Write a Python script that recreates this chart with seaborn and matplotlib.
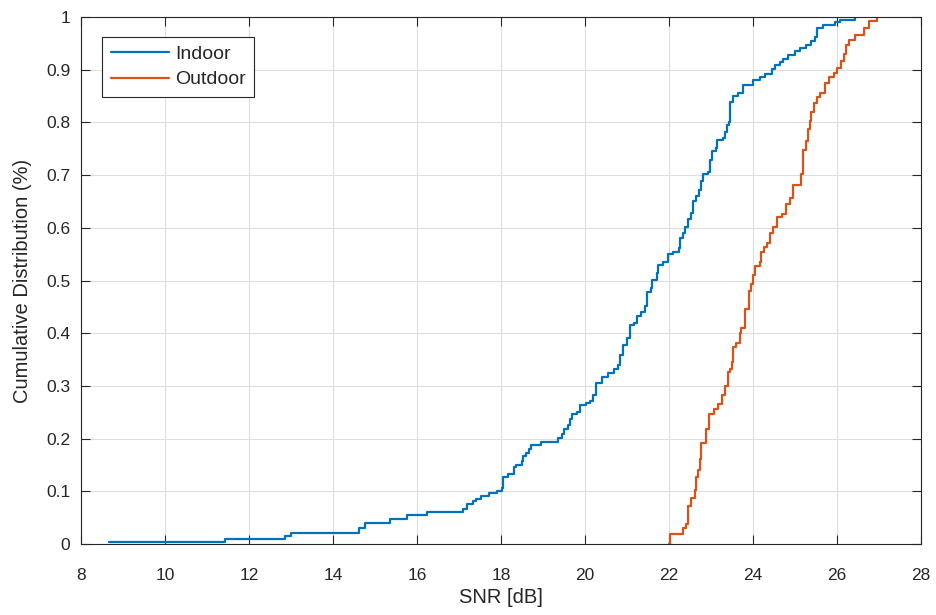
import matplotlib
matplotlib.use("Agg")
import matplotlib.pyplot as plt
import numpy as np
import pandas as pd
import seaborn as sns
from matplotlib.ticker import FormatStrFormatter

# Empirical CDF knots (SNR in dB, cumulative fraction) for each environment
indoor_snr = [8.67, 11.42, 12.85, 13.00, 14.62, 14.76, 15.35, 15.76, 16.24, 17.08,
              17.19, 17.33, 17.40, 17.52, 17.71, 17.89, 18.01, 18.05, 18.17, 18.30,
              18.36, 18.49, 18.52, 18.58, 18.67, 18.70, 18.94, 19.36, 19.46, 19.49,
              19.60, 19.64, 19.68, 19.81, 19.87, 20.01, 20.11, 20.18, 20.25, 20.41,
              20.55, 20.68, 20.79, 20.84, 20.90, 20.99, 21.06, 21.16, 21.24, 21.34,
              21.42, 21.48, 21.56, 21.60, 21.70, 21.74, 21.86, 21.98, 22.10, 22.24,
              22.27, 22.32, 22.37, 22.45, 22.53, 22.57, 22.64, 22.71, 22.77, 22.81,
              22.93, 22.97, 23.03, 23.11, 23.14, 23.29, 23.33, 23.38, 23.43, 23.46,
              23.52, 23.64, 23.76, 24.00, 24.16, 24.28, 24.44, 24.52, 24.64, 24.71,
              24.83, 24.99, 25.11, 25.27, 25.39, 25.47, 25.52, 25.67, 25.95, 26.07,
              26.42, 26.46]
indoor_cdf = [0.004, 0.010, 0.015, 0.021, 0.030, 0.040, 0.047, 0.056, 0.061, 0.066,
              0.076, 0.082, 0.086, 0.091, 0.096, 0.100, 0.106, 0.127, 0.133, 0.146,
              0.150, 0.158, 0.167, 0.172, 0.180, 0.188, 0.193, 0.202, 0.209, 0.219,
              0.225, 0.237, 0.247, 0.251, 0.264, 0.268, 0.272, 0.283, 0.305, 0.317,
              0.325, 0.333, 0.340, 0.359, 0.378, 0.390, 0.416, 0.420, 0.433, 0.441,
              0.452, 0.479, 0.485, 0.501, 0.514, 0.529, 0.536, 0.550, 0.555, 0.561,
              0.580, 0.590, 0.602, 0.616, 0.629, 0.650, 0.660, 0.672, 0.688, 0.702,
              0.706, 0.729, 0.746, 0.751, 0.767, 0.770, 0.782, 0.795, 0.801, 0.838,
              0.850, 0.855, 0.870, 0.880, 0.886, 0.891, 0.901, 0.908, 0.914, 0.920,
              0.927, 0.935, 0.941, 0.947, 0.955, 0.962, 0.980, 0.985, 0.990, 0.994,
              1.000, 1.000]

outdoor_snr = [22.00, 22.02, 22.32, 22.40, 22.45, 22.53, 22.61, 22.64, 22.69, 22.73,
               22.77, 22.89, 22.95, 23.06, 23.17, 23.25, 23.33, 23.40, 23.45, 23.49,
               23.52, 23.60, 23.68, 23.72, 23.80, 23.90, 23.96, 23.99, 24.04, 24.16,
               24.20, 24.25, 24.32, 24.41, 24.48, 24.56, 24.70, 24.79, 24.89, 24.95,
               25.15, 25.19, 25.26, 25.31, 25.35, 25.39, 25.45, 25.52, 25.60, 25.71,
               25.81, 25.92, 26.00, 26.10, 26.16, 26.21, 26.29, 26.42, 26.64, 26.76,
               26.95, 26.97]
outdoor_cdf = [0.000, 0.019, 0.030, 0.038, 0.072, 0.088, 0.102, 0.128, 0.140, 0.161,
               0.191, 0.218, 0.247, 0.256, 0.266, 0.283, 0.300, 0.327, 0.333, 0.346,
               0.373, 0.382, 0.401, 0.409, 0.445, 0.481, 0.493, 0.510, 0.527, 0.535,
               0.555, 0.564, 0.572, 0.591, 0.602, 0.620, 0.627, 0.646, 0.657, 0.682,
               0.702, 0.748, 0.765, 0.787, 0.802, 0.819, 0.836, 0.848, 0.855, 0.874,
               0.886, 0.893, 0.903, 0.917, 0.930, 0.947, 0.956, 0.966, 0.980, 0.992,
               1.000, 1.000]

series_names = ["Indoor", "Outdoor"]
series_colors = ["#0072BD", "#D95319"]
x_ticks = list(range(8, 29, 2))
y_ticks = [round(0.1 * i, 1) for i in range(11)]

df = pd.concat([
    pd.DataFrame({"SNR": indoor_snr, "CDF": indoor_cdf, "Scenario": series_names[0]}),
    pd.DataFrame({"SNR": outdoor_snr, "CDF": outdoor_cdf, "Scenario": series_names[1]}),
], ignore_index=True)

sns.set_theme(style="white")
plt.rcParams["font.family"] = ["Liberation Sans", "DejaVu Sans"]

fig = plt.figure(figsize=(9.36, 6.15), dpi=100)
ax = fig.add_axes([0.0869, 0.1154, 0.8971, 0.857])

sns.lineplot(data=df, x="SNR", y="CDF", hue="Scenario", hue_order=series_names,
             palette=series_colors, estimator=None, sort=True,
             drawstyle="steps-post", linewidth=1.6, ax=ax)

ax.set_xlim(8, 28)
ax.set_ylim(0, 1)
ax.set_xticks(x_ticks)
ax.set_yticks(y_ticks)
ax.yaxis.set_major_formatter(FormatStrFormatter("%g"))

ax.grid(True, color="#dedede", linewidth=0.8)
ax.set_axisbelow(True)
for side in ["left", "right", "top", "bottom"]:
    ax.spines[side].set_visible(True)
    ax.spines[side].set_color("#262626")
    ax.spines[side].set_linewidth(0.8)
ax.tick_params(axis="both", which="major", direction="in", length=6.5, width=0.8,
               color="#262626", labelcolor="#262626", labelsize=12.5,
               top=True, right=True, bottom=True, left=True, pad=8)
ax.tick_params(axis="x", pad=17)

ax.set_xlabel("SNR [dB]", fontsize=14.5, color="#262626", labelpad=4)
ax.set_ylabel("Cumulative Distribution (%)", fontsize=14.5, color="#262626", labelpad=10)

leg = ax.legend(loc="upper left", bbox_to_anchor=(0.0247, 0.9626), borderaxespad=0,
                fontsize=14, frameon=True, fancybox=False, handlelength=3.0,
                handletextpad=0.3, borderpad=0.45, labelspacing=0.4)
leg.get_frame().set_edgecolor("#262626")
leg.get_frame().set_linewidth(0.8)
leg.get_frame().set_facecolor("white")
leg.get_frame().set_alpha(1)
for line in leg.get_lines():
    line.set_linewidth(1.6)

fig.savefig("out.png", dpi=100)
